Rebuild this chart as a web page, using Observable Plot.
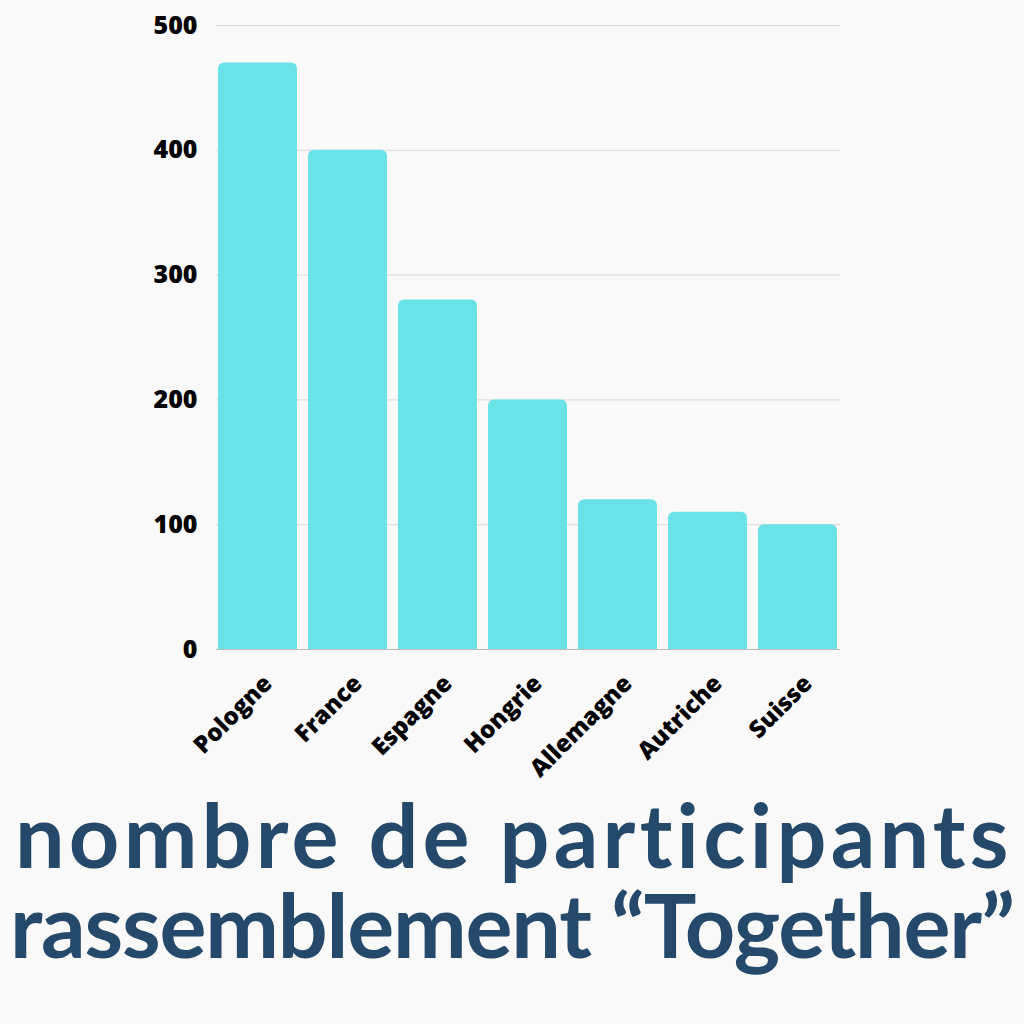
<!DOCTYPE html>
<html><head><meta charset="utf-8">
<script src="https://cdn.jsdelivr.net/npm/d3@7"></script>
<script src="https://cdn.jsdelivr.net/npm/@observablehq/plot@0.6"></script>
<style>
html,body{margin:0;padding:0;background:#f9f9f9;}
#wrap{width:1024px;height:1024px;position:relative;overflow:hidden;background:#f9f9f9;}
#chart svg{display:block;}
#title{position:absolute;left:0;top:0;font-family:"Lato",sans-serif;font-weight:700;color:#24496a;white-space:nowrap;}
#title span{position:absolute;display:block;line-height:0.8;}
</style>
</head><body>
<div id="wrap"><div id="chart"></div>
<div id="title"><span id="t1"></span><span id="t2"></span></div>
</div>
<script>
const countries = ["Pologne","France","Espagne","Hongrie","Allemagne","Autriche","Suisse"];
const participants = [470, 400, 280, 200, 120, 110, 100];
const yTicks = [0, 100, 200, 300, 400, 500];
const titleLines = ["nombre de participants", "rassemblement “Together”"];

const data = countries.map((c, i) => ({country: c, value: participants[i]}));

const chart = Plot.plot({
  width: 1024,
  height: 800,
  marginTop: 25,
  marginBottom: 151,
  marginLeft: 216,
  marginRight: 184,
  style: {background: "transparent", fontFamily: "'Open Sans', sans-serif"},
  x: {domain: countries, paddingInner: 0.118, paddingOuter: 0, axis: null},
  y: {domain: [0, 500], axis: null},
  marks: [
    Plot.gridY(yTicks, {stroke: "#d9d9d9", strokeOpacity: 1, strokeWidth: 1}),
    Plot.axisY(yTicks, {tickSize: 0, tickPadding: 19, fontSize: 25, fontWeight: 800, fill: "#000", tickFormat: d => String(d), label: null}),
    Plot.barY(data, {x: "country", y: "value", fill: "#6ae3e8", ry1: 6}),
    Plot.ruleY([0], {stroke: "#bbbbbb", strokeWidth: 1}),
    Plot.text(data, {x: "country", text: "country", frameAnchor: "bottom", rotate: -45, textAnchor: "end", lineAnchor: "middle", dx: 10, dy: 30, fontSize: 24, fontWeight: 800, fill: "#000"})
  ]
});
document.getElementById("chart").appendChild(chart);

// Fit the title lines to the reference widths
const fit = [{el: "t1", x0: 15, x1: 1010, base: 868}, {el: "t2", x0: 10, x1: 1015, base: 958}];
const canvas = document.createElement("canvas");
const ctx = canvas.getContext("2d");
const fs = 88;
ctx.font = `700 ${fs}px Lato`;
fit.forEach((f, i) => {
  const el = document.getElementById(f.el);
  el.textContent = titleLines[i];
  el.style.fontSize = fs + "px";
  const w = ctx.measureText(titleLines[i]).width;
  const n = titleLines[i].length;
  const ls = ((f.x1 - f.x0) - w) / (n - 1);
  el.style.letterSpacing = ls + "px";
  el.style.left = f.x0 + "px";
  el.style.top = (f.base - fs * 0.787) + "px";
});
</script>
</body></html>
